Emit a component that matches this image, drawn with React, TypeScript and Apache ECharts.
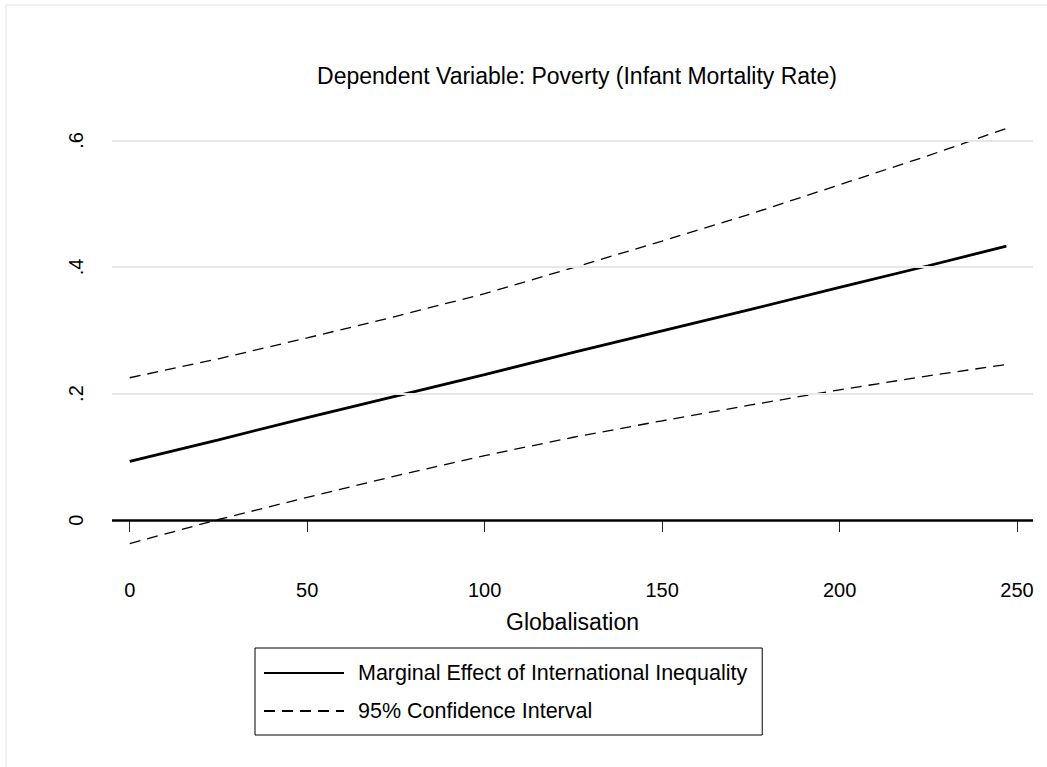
import React, { useEffect, useRef } from "react";
import * as echarts from "echarts";

// Globalisation values at which the estimates are read
const xValues = [0, 25, 50, 75, 100, 125, 150, 175, 200, 225, 247];
// Marginal effect of international inequality
const effect = [0.093, 0.127, 0.162, 0.196, 0.23, 0.265, 0.299, 0.333, 0.368, 0.402, 0.433];
// 95% confidence interval bounds
const upperCI = [0.225, 0.255, 0.288, 0.322, 0.358, 0.399, 0.441, 0.484, 0.53, 0.576, 0.619];
const lowerCI = [-0.037, 0.001, 0.036, 0.07, 0.102, 0.131, 0.157, 0.182, 0.206, 0.228, 0.246];

const xTicks = [0, 50, 100, 150, 200, 250];
const yTicks = [0, 0.2, 0.4, 0.6];
const gridValues = [0.2, 0.4, 0.6];

const titleText = "Dependent Variable: Poverty (Infant Mortality Rate)";
const xTitle = "Globalisation";
const effectName = "Marginal Effect of International Inequality";
const ciName = "95% Confidence Interval";

const FONT = "'Liberation Sans', Arial, Helvetica, sans-serif";

export default function App() {
  const ref = useRef<HTMLDivElement>(null);

  useEffect(() => {
    if (!ref.current) return;
    const chart = echarts.init(ref.current, null, { renderer: "svg" });
    const pairs = (ys: number[]) => xValues.map((x, i) => [x, ys[i]]);

    chart.setOption({
      animation: false,
      backgroundColor: "#ffffff",
      textStyle: { fontFamily: FONT },
      title: {
        text: titleText,
        left: 572,
        top: 59,
        textAlign: "center",
        textStyle: { fontFamily: FONT, fontSize: 23, fontWeight: "normal", color: "#000" },
      },
      grid: { left: 112, right: 14, top: 102.5, bottom: 207, containLabel: false },
      xAxis: {
        type: "value",
        min: -5,
        max: 254.5,
        name: xTitle,
        nameLocation: "middle",
        nameGap: 50,
        nameTextStyle: { fontFamily: FONT, fontSize: 23, color: "#000" },
        axisLine: { show: false },
        axisTick: { show: true, length: 12, customValues: xTicks, lineStyle: { color: "#222", width: 1 } },
        axisLabel: { customValues: xTicks, margin: 20, fontFamily: FONT, fontSize: 20, color: "#000" },
        splitLine: { show: false },
      },
      yAxis: {
        type: "value",
        min: -0.063,
        max: 0.66,
        axisLine: { show: false },
        axisTick: { show: true, length: 10, customValues: yTicks, lineStyle: { color: "#222", width: 1 } },
        axisLabel: {
          customValues: yTicks,
          rotate: 90,
          margin: 26,
          fontFamily: FONT,
          fontSize: 20,
          color: "#000",
          formatter: (v: number) => (Math.abs(v) < 1e-9 ? "0" : v.toFixed(1).replace(/^0\./, ".")),
        },
        splitLine: { show: false },
      },
      legend: {
        data: [effectName, ciName],
        orient: "vertical",
        left: 255,
        top: 648,
        itemWidth: 80,
        itemHeight: 14,
        itemGap: 16,
        padding: [14, 15, 13, 8],
        borderColor: "#000",
        borderWidth: 1,
        selectedMode: false,
        itemStyle: { opacity: 0 },
        textStyle: { fontFamily: FONT, fontSize: 21.5, color: "#000", padding: [0, 0, 0, 9] },
      },
      graphic: [
        { type: "line", shape: { x1: 6, y1: 5, x2: 1047, y2: 5 }, style: { stroke: "#ececec", lineWidth: 1.5 }, silent: true },
        { type: "line", shape: { x1: 6, y1: 5, x2: 6, y2: 767 }, style: { stroke: "#ececec", lineWidth: 1.5 }, silent: true },
      ],
      series: [
        {
          name: "grid",
          type: "line",
          data: [],
          z: 1,
          silent: true,
          markLine: {
            silent: true,
            symbol: "none",
            label: { show: false },
            lineStyle: { color: "#e8e8e8", width: 2, type: "solid" },
            data: gridValues.map((v) => ({ yAxis: v })),
          },
        },
        {
          name: effectName,
          type: "line",
          data: pairs(effect),
          symbol: "none",
          z: 3,
          lineStyle: { color: "#000", width: 2.8, type: "solid" },
          itemStyle: { color: "#000" },
          markLine: {
            silent: true,
            symbol: "none",
            label: { show: false },
            lineStyle: { color: "#000", width: 2.5, type: "solid" },
            data: [{ yAxis: 0 }],
          },
        },
        {
          name: ciName,
          type: "line",
          data: pairs(upperCI),
          symbol: "none",
          z: 3,
          lineStyle: { color: "#000", width: 1.3, type: [11, 7] },
          itemStyle: { color: "#000" },
        },
        {
          name: ciName,
          type: "line",
          data: pairs(lowerCI),
          symbol: "none",
          z: 3,
          lineStyle: { color: "#000", width: 1.3, type: [11, 7] },
          itemStyle: { color: "#000" },
        },
      ],
    });

    return () => chart.dispose();
  }, []);

  return (
    <div
      ref={ref}
      style={{ position: "fixed", left: 0, top: 0, width: 1047, height: 767, background: "#fff" }}
    />
  );
}
